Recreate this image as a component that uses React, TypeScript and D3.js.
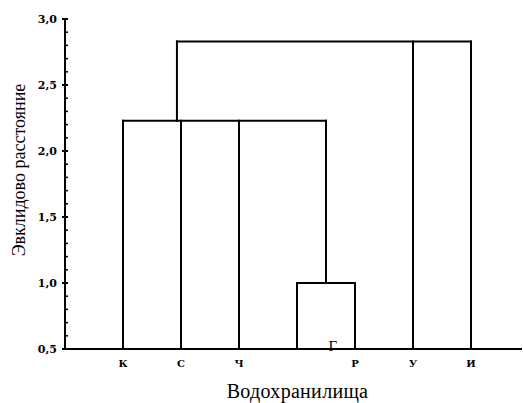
import React from "react";
import * as d3 from "d3";

// Reservoirs (leaves of the tree), left to right
const leaves = ["К", "С", "Ч", "Г", "Р", "У", "И"];

// Agglomeration steps: linkage height and the joined members
const clusterIds = ["ГР", "КСЧГР", "all"];
const clusterHeights = [1.0, 2.23, 2.83];
const clusterMembers = [
  ["Г", "Р"],
  ["К", "С", "Ч", "ГР"],
  ["КСЧГР", "У", "И"],
];
// Position (in leaf-index units) where a cluster's stem rises; null = midpoint of its span
const clusterStem: (number | null)[] = [null, 0.93, null];

// Axis ticks
const yMajorTicks = [0.5, 1.0, 1.5, 2.0, 2.5, 3.0];
const yMinorStep = 0.1;

const W = 523;
const H = 403;
const serif = "Liberation Serif, Times New Roman, serif";
const smallSerif = "DejaVu Serif, serif";

export default function App() {
  const x = d3.scaleLinear().domain([-1, leaves.length]).range([65, 529]);
  const y = d3.scaleLinear().domain([0.5, 3.0]).range([349, 19]);
  const yBase = 0.5;

  // Resolve each node's position and height
  const pos: Record<string, number> = {};
  const hgt: Record<string, number> = {};
  leaves.forEach((l, i) => {
    pos[l] = i;
    hgt[l] = yBase;
  });

  const segs: { x1: number; y1: number; x2: number; y2: number }[] = [];
  clusterIds.forEach((id, k) => {
    const h = clusterHeights[k];
    const mem = clusterMembers[k];
    const ps = mem.map((m) => pos[m]);
    const lo = d3.min(ps) as number;
    const hi = d3.max(ps) as number;
    mem.forEach((m) => {
      segs.push({ x1: x(pos[m]), y1: y(hgt[m]), x2: x(pos[m]), y2: y(h) });
    });
    segs.push({ x1: x(lo), y1: y(h), x2: x(hi), y2: y(h) });
    pos[id] = clusterStem[k] ?? (lo + hi) / 2;
    hgt[id] = h;
  });

  const minorTicks = d3.range(0.5, 3.0001, yMinorStep);
  const fmt = (v: number) => v.toFixed(1).replace(".", ",");

  return (
    <svg
      width={W}
      height={H}
      style={{ position: "absolute", left: 0, top: 0, background: "#fff" }}
    >
      {/* stray leaf letter sitting just above the baseline */}
      <text
        x={x(pos["Г"] + 0.62)}
        y={y(yBase) + 2}
        textAnchor="middle"
        style={{ fontFamily: serif, fontSize: 15, fill: "#000" }}
      >
        Г
      </text>

      {/* tree */}
      <g stroke="#000" strokeWidth={2} fill="none" strokeLinecap="square">
        {segs.map((s, i) => (
          <line key={i} x1={s.x1} y1={s.y1} x2={s.x2} y2={s.y2} />
        ))}
      </g>

      {/* y axis */}
      <g stroke="#000">
        <line x1={x(-1)} y1={y(3.0)} x2={x(-1)} y2={y(0.5)} strokeWidth={2} />
        {minorTicks.map((t, i) => (
          <line key={i} x1={x(-1)} x2={x(-1) + 3} y1={y(t)} y2={y(t)} strokeWidth={1.5} />
        ))}
        {yMajorTicks.map((t) => (
          <line key={t} x1={x(-1) - 3} x2={x(-1) + 3} y1={y(t)} y2={y(t)} strokeWidth={2} />
        ))}
      </g>
      {yMajorTicks.map((t) => (
        <text
          key={t}
          x={x(-1) - 8}
          y={y(t) + 4}
          textAnchor="end"
          style={{ fontFamily: smallSerif, fontSize: 11, fontWeight: "bold", fill: "#000" }}
        >
          {fmt(t)}
        </text>
      ))}

      {/* x axis */}
      <line x1={x(-1) - 1} y1={y(yBase)} x2={522} y2={y(yBase)} stroke="#000" strokeWidth={2} />
      {leaves.map((l, i) =>
        l === "Г" ? null : (
          <text
            key={l}
            x={x(i)}
            y={y(yBase) + 17.5}
            textAnchor="middle"
            style={{ fontFamily: smallSerif, fontSize: 10, fontWeight: "bold", fill: "#000" }}
          >
            {l}
          </text>
        )
      )}

      {/* axis titles */}
      <text
        x={297.5}
        y={398}
        textAnchor="middle"
        style={{ fontFamily: serif, fontSize: 20, letterSpacing: 0.3, fill: "#000" }}
      >
        Водохранилища
      </text>
      <text
        transform={`translate(25, 170) rotate(-90)`}
        textAnchor="middle"
        style={{ fontFamily: serif, fontSize: 18, fill: "#000" }}
      >
        Эвклидово расстояние
      </text>
    </svg>
  );
}
